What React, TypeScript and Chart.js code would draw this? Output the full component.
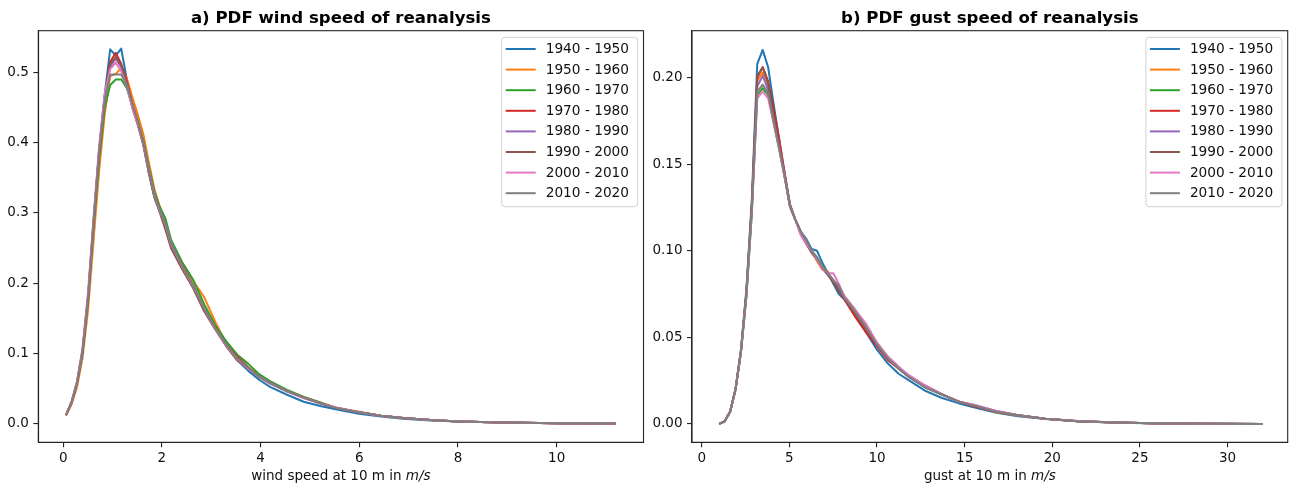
import React, { useEffect, useRef } from "react";
import { Chart, registerables } from "chart.js";

Chart.register(...registerables);

// ---------- data ----------
const PERIODS = [
  "1940 - 1950",
  "1950 - 1960",
  "1960 - 1970",
  "1970 - 1980",
  "1980 - 1990",
  "1990 - 2000",
  "2000 - 2010",
  "2010 - 2020",
];
const COLORS = ["#1f77b4", "#ff7f0e", "#2ca02c", "#d62728", "#9467bd", "#8c564b", "#e377c2", "#7f7f7f"];

const WIND_TICKS_X = [0, 2, 4, 6, 8, 10];
const WIND_TICKS_Y = [0, 0.1, 0.2, 0.3, 0.4, 0.5];
const GUST_TICKS_X = [0, 5, 10, 15, 20, 25, 30];
const GUST_TICKS_Y = [0, 0.05, 0.1, 0.15, 0.2];

const WIND_X = [0.056, 0.168, 0.28, 0.392, 0.504, 0.616, 0.728, 0.84, 0.952, 1.064, 1.176, 1.288, 1.4, 1.512, 1.624, 1.736, 1.848, 1.96, 2.072, 2.184, 2.408, 2.632, 2.856, 3.08, 3.304, 3.528, 3.752, 3.976, 4.2, 4.536, 4.872, 5.208, 5.544, 5.992, 6.44, 6.888, 7.448, 8.008, 8.904, 10.024, 11.2];
const WIND_1940 = [0.012, 0.031, 0.059, 0.105, 0.182, 0.29, 0.39, 0.468, 0.533, 0.524, 0.534, 0.49, 0.452, 0.428, 0.398, 0.358, 0.322, 0.302, 0.282, 0.255, 0.222, 0.196, 0.164, 0.136, 0.111, 0.09, 0.075, 0.062, 0.052, 0.041, 0.031, 0.025, 0.02, 0.014, 0.01, 0.007, 0.0045, 0.0028, 0.0014, 0.0005, 0.0001];
const WIND_1950 = [0.011, 0.027, 0.052, 0.094, 0.162, 0.262, 0.36, 0.44, 0.495, 0.498, 0.506, 0.492, 0.465, 0.44, 0.412, 0.372, 0.334, 0.308, 0.287, 0.26, 0.228, 0.203, 0.18, 0.145, 0.114, 0.094, 0.08, 0.068, 0.059, 0.047, 0.038, 0.03, 0.022, 0.017, 0.011, 0.008, 0.005, 0.003, 0.0015, 0.0005, 0.0001];
const WIND_1960 = [0.012, 0.03, 0.057, 0.1, 0.175, 0.28, 0.375, 0.45, 0.482, 0.49, 0.49, 0.478, 0.452, 0.43, 0.402, 0.365, 0.33, 0.308, 0.292, 0.262, 0.23, 0.205, 0.17, 0.14, 0.117, 0.098, 0.085, 0.07, 0.06, 0.048, 0.038, 0.03, 0.022, 0.016, 0.011, 0.008, 0.005, 0.003, 0.0015, 0.0005, 0.0001];
const WIND_1970 = [0.012, 0.03, 0.058, 0.103, 0.18, 0.287, 0.388, 0.465, 0.515, 0.528, 0.512, 0.488, 0.456, 0.43, 0.4, 0.36, 0.326, 0.303, 0.282, 0.255, 0.226, 0.197, 0.163, 0.136, 0.112, 0.095, 0.08, 0.066, 0.058, 0.046, 0.037, 0.029, 0.022, 0.016, 0.011, 0.008, 0.005, 0.003, 0.0015, 0.0005, 0.0001];
const WIND_1980 = [0.012, 0.03, 0.058, 0.103, 0.178, 0.285, 0.386, 0.462, 0.508, 0.52, 0.508, 0.485, 0.452, 0.428, 0.398, 0.358, 0.324, 0.302, 0.283, 0.256, 0.224, 0.195, 0.163, 0.135, 0.112, 0.092, 0.078, 0.067, 0.058, 0.046, 0.037, 0.029, 0.022, 0.016, 0.011, 0.008, 0.005, 0.003, 0.0015, 0.0005, 0.0001];
const WIND_1990 = [0.012, 0.03, 0.058, 0.103, 0.18, 0.286, 0.387, 0.464, 0.512, 0.522, 0.51, 0.484, 0.45, 0.425, 0.396, 0.356, 0.322, 0.3, 0.276, 0.25, 0.22, 0.193, 0.16, 0.134, 0.11, 0.09, 0.079, 0.066, 0.057, 0.046, 0.037, 0.029, 0.022, 0.016, 0.011, 0.008, 0.005, 0.003, 0.0015, 0.0005, 0.0001];
const WIND_2000 = [0.012, 0.031, 0.06, 0.108, 0.188, 0.295, 0.395, 0.47, 0.505, 0.514, 0.502, 0.48, 0.45, 0.426, 0.398, 0.36, 0.325, 0.303, 0.283, 0.256, 0.224, 0.196, 0.164, 0.135, 0.111, 0.092, 0.078, 0.066, 0.057, 0.046, 0.036, 0.029, 0.023, 0.016, 0.011, 0.008, 0.005, 0.003, 0.0015, 0.0005, 0.0001];
const WIND_2010 = [0.012, 0.03, 0.058, 0.104, 0.18, 0.288, 0.388, 0.46, 0.497, 0.497, 0.497, 0.482, 0.455, 0.43, 0.4, 0.36, 0.325, 0.304, 0.284, 0.257, 0.224, 0.197, 0.164, 0.136, 0.112, 0.093, 0.079, 0.066, 0.057, 0.046, 0.037, 0.029, 0.022, 0.016, 0.011, 0.008, 0.005, 0.003, 0.0015, 0.0005, 0.0001];

const GUST_X = [1.0, 1.31, 1.62, 1.93, 2.24, 2.55, 2.86, 3.17, 3.48, 3.79, 4.1, 4.41, 4.72, 5.03, 5.34, 5.65, 5.96, 6.27, 6.58, 6.89, 7.2, 7.51, 7.82, 8.13, 8.44, 8.75, 9.37, 9.99, 10.61, 11.23, 11.85, 12.78, 13.71, 14.64, 15.57, 16.81, 18.05, 19.6, 21.46, 23.63, 26.42, 29.21, 32.0];
const GUST_1940 = [0.0, 0.0015, 0.007, 0.02, 0.043, 0.078, 0.13, 0.208, 0.216, 0.206, 0.185, 0.165, 0.145, 0.127, 0.118, 0.111, 0.107, 0.101, 0.1, 0.093, 0.087, 0.081, 0.075, 0.072, 0.068, 0.063, 0.053, 0.043, 0.035, 0.029, 0.025, 0.019, 0.015, 0.012, 0.0095, 0.0065, 0.0045, 0.0028, 0.0015, 0.0007, 0.0003, 0.0001, 0.0];
const GUST_1950 = [0.0, 0.0015, 0.007, 0.02, 0.042, 0.075, 0.125, 0.198, 0.203, 0.194, 0.176, 0.16, 0.144, 0.126, 0.118, 0.111, 0.105, 0.1, 0.094, 0.089, 0.088, 0.082, 0.078, 0.074, 0.069, 0.064, 0.056, 0.046, 0.038, 0.032, 0.027, 0.021, 0.017, 0.013, 0.0105, 0.0068, 0.0048, 0.003, 0.0016, 0.0008, 0.0003, 0.0001, 0.0];
const GUST_1960 = [0.0, 0.0015, 0.007, 0.02, 0.041, 0.073, 0.122, 0.19, 0.194, 0.19, 0.174, 0.159, 0.143, 0.126, 0.118, 0.111, 0.106, 0.1, 0.096, 0.091, 0.087, 0.083, 0.078, 0.074, 0.07, 0.066, 0.057, 0.047, 0.039, 0.033, 0.027, 0.021, 0.017, 0.013, 0.0105, 0.007, 0.005, 0.003, 0.0016, 0.0008, 0.0003, 0.0001, 0.0];
const GUST_1970 = [0.0, 0.0015, 0.007, 0.02, 0.042, 0.076, 0.126, 0.2, 0.206, 0.198, 0.182, 0.165, 0.146, 0.127, 0.118, 0.11, 0.104, 0.099, 0.095, 0.09, 0.086, 0.082, 0.077, 0.072, 0.067, 0.062, 0.053, 0.045, 0.037, 0.032, 0.027, 0.022, 0.017, 0.013, 0.01, 0.007, 0.005, 0.003, 0.0016, 0.0008, 0.0003, 0.0001, 0.0];
const GUST_1980 = [0.0, 0.0015, 0.007, 0.02, 0.042, 0.075, 0.124, 0.195, 0.201, 0.193, 0.176, 0.16, 0.144, 0.126, 0.118, 0.111, 0.106, 0.1, 0.096, 0.09, 0.086, 0.083, 0.079, 0.073, 0.069, 0.065, 0.056, 0.046, 0.038, 0.032, 0.027, 0.021, 0.017, 0.013, 0.011, 0.0075, 0.005, 0.003, 0.0017, 0.0008, 0.0003, 0.0001, 0.0];
const GUST_1990 = [0.0, 0.0015, 0.007, 0.02, 0.042, 0.076, 0.126, 0.201, 0.206, 0.197, 0.178, 0.161, 0.144, 0.126, 0.118, 0.111, 0.105, 0.099, 0.095, 0.09, 0.087, 0.082, 0.077, 0.073, 0.068, 0.064, 0.055, 0.046, 0.038, 0.032, 0.027, 0.022, 0.017, 0.013, 0.0105, 0.0072, 0.005, 0.003, 0.0016, 0.0008, 0.0003, 0.0001, 0.0];
const GUST_2000 = [0.0, 0.0015, 0.007, 0.02, 0.042, 0.074, 0.122, 0.188, 0.192, 0.188, 0.174, 0.159, 0.143, 0.126, 0.118, 0.109, 0.104, 0.1, 0.095, 0.09, 0.087, 0.087, 0.081, 0.074, 0.07, 0.066, 0.058, 0.047, 0.039, 0.033, 0.028, 0.022, 0.017, 0.013, 0.011, 0.0075, 0.005, 0.003, 0.0017, 0.0008, 0.0003, 0.0001, 0.0];
const GUST_2010 = [0.0, 0.0015, 0.007, 0.02, 0.042, 0.075, 0.124, 0.192, 0.196, 0.191, 0.175, 0.16, 0.144, 0.126, 0.118, 0.111, 0.106, 0.1, 0.096, 0.091, 0.087, 0.083, 0.08, 0.073, 0.069, 0.065, 0.056, 0.046, 0.038, 0.032, 0.027, 0.021, 0.017, 0.013, 0.0105, 0.007, 0.005, 0.003, 0.0016, 0.0008, 0.0003, 0.0001, 0.0];

const WIND_SERIES = [WIND_1940, WIND_1950, WIND_1960, WIND_1970, WIND_1980, WIND_1990, WIND_2000, WIND_2010];
const GUST_SERIES = [GUST_1940, GUST_1950, GUST_1960, GUST_1970, GUST_1980, GUST_1990, GUST_2000, GUST_2010];

// ---------- styling ----------
const FONT = '"DejaVu Sans", "Liberation Sans", sans-serif';
const TXT = "#111";
const SPINE = "#262626";

const decorPlugin = {
  id: "decor",
  afterDraw(chart: any, _args: any, o: any) {
    const { ctx, chartArea: ca } = chart;
    ctx.save();
    // full frame
    ctx.strokeStyle = SPINE;
    ctx.lineWidth = 1.1;
    ctx.strokeRect(ca.left, ca.top, ca.right - ca.left, ca.bottom - ca.top);
    const cx = (ca.left + ca.right) / 2;
    // title
    ctx.fillStyle = "#000";
    ctx.font = `bold 16.6px ${FONT}`;
    ctx.textAlign = "center";
    ctx.textBaseline = "alphabetic";
    ctx.fillText(o.title, cx, 22.5);
    // x label with italic unit
    ctx.font = `13.5px ${FONT}`;
    const w1 = ctx.measureText(o.xlabel).width;
    ctx.font = `italic 13.5px ${FONT}`;
    const w2 = ctx.measureText(o.unit).width;
    const x0 = cx - (w1 + w2) / 2;
    ctx.textAlign = "left";
    ctx.fillStyle = TXT;
    ctx.font = `13.5px ${FONT}`;
    ctx.fillText(o.xlabel, x0, 480);
    ctx.font = `italic 13.5px ${FONT}`;
    ctx.fillText(o.unit, x0 + w1, 480);
    // legend
    const bw = 136;
    const bh = 169.4;
    const bx = ca.right - 5.8 - bw;
    const by = ca.top + 6.6;
    ctx.beginPath();
    if (ctx.roundRect) ctx.roundRect(bx, by, bw, bh, 3);
    else ctx.rect(bx, by, bw, bh);
    ctx.fillStyle = "rgba(255,255,255,0.8)";
    ctx.fill();
    ctx.strokeStyle = "rgba(204,204,204,0.9)";
    ctx.lineWidth = 1;
    ctx.stroke();
    ctx.font = `13.7px ${FONT}`;
    ctx.textBaseline = "middle";
    chart.data.datasets.forEach((ds: any, i: number) => {
      const y = by + 11.7 + i * 20.6;
      ctx.strokeStyle = ds.borderColor;
      ctx.lineWidth = 2;
      ctx.beginPath();
      ctx.moveTo(bx + 4, y);
      ctx.lineTo(bx + 34, y);
      ctx.stroke();
      ctx.fillStyle = TXT;
      ctx.fillText(ds.label, bx + 44, y + 0.5);
    });
    ctx.restore();
  },
};

function makeConfig(p: {
  xs: number[];
  series: number[][];
  xMin: number;
  xMax: number;
  yMin: number;
  yMax: number;
  xTicks: number[];
  yTicks: number[];
  yDec: number;
  yAxisW: number;
  padRight: number;
  title: string;
  xlabel: string;
}): any {
  return {
    type: "line",
    data: {
      datasets: p.series.map((ys, i) => ({
        label: PERIODS[i],
        data: p.xs.map((x, j) => ({ x, y: ys[j] })),
        borderColor: COLORS[i],
        backgroundColor: COLORS[i],
        borderWidth: 2,
        pointRadius: 0,
        tension: 0,
        fill: false,
        borderJoinStyle: "round",
        order: PERIODS.length - i,
      })),
    },
    options: {
      responsive: false,
      animation: false,
      layout: { padding: { top: 30.7, right: p.padRight, left: 0, bottom: 0 } },
      plugins: {
        legend: { display: false },
        tooltip: { enabled: false },
        title: { display: false },
        decor: { title: p.title, xlabel: p.xlabel, unit: "m/s" },
      },
      scales: {
        x: {
          type: "linear",
          min: p.xMin,
          max: p.xMax,
          afterBuildTicks: (s: any) => {
            s.ticks = p.xTicks.map((v) => ({ value: v }));
          },
          afterFit: (s: any) => {
            s.height = 48.7;
          },
          ticks: {
            font: { family: FONT, size: 13.5 },
            color: TXT,
            padding: 3,
            maxRotation: 0,
            autoSkip: false,
            callback: (v: any) => String(v),
          },
          grid: { drawOnChartArea: false, drawTicks: true, tickLength: 5, color: SPINE, lineWidth: 1.1 },
          border: { display: true, color: SPINE, width: 1.1 },
        },
        y: {
          type: "linear",
          min: p.yMin,
          max: p.yMax,
          afterBuildTicks: (s: any) => {
            s.ticks = p.yTicks.map((v) => ({ value: v }));
          },
          afterFit: (s: any) => {
            s.width = p.yAxisW;
          },
          ticks: {
            font: { family: FONT, size: 13.5 },
            color: TXT,
            padding: 4.5,
            autoSkip: false,
            callback: (v: any) => Number(v).toFixed(p.yDec),
          },
          grid: { drawOnChartArea: false, drawTicks: true, tickLength: 5, color: SPINE, lineWidth: 1.1 },
          border: { display: true, color: SPINE, width: 1.1 },
        },
      },
    },
    plugins: [decorPlugin],
  };
}

export default function App() {
  const leftRef = useRef<HTMLCanvasElement>(null);
  const rightRef = useRef<HTMLCanvasElement>(null);

  useEffect(() => {
    const c1 = new Chart(
      leftRef.current as HTMLCanvasElement,
      makeConfig({
        xs: WIND_X,
        series: WIND_SERIES,
        xMin: -0.505,
        xMax: 11.76,
        yMin: -0.0267,
        yMax: 0.5595,
        xTicks: WIND_TICKS_X,
        yTicks: WIND_TICKS_Y,
        yDec: 1,
        yAxisW: 38.3,
        padRight: 4.5,
        title: "a) PDF wind speed of reanalysis",
        xlabel: "wind speed at 10 m in ",
      })
    );
    const c2 = new Chart(
      rightRef.current as HTMLCanvasElement,
      makeConfig({
        xs: GUST_X,
        series: GUST_SERIES,
        xMin: -0.553,
        xMax: 33.43,
        yMin: -0.0106,
        yMax: 0.2271,
        xTicks: GUST_TICKS_X,
        yTicks: GUST_TICKS_Y,
        yDec: 2,
        yAxisW: 44,
        padRight: 2.3,
        title: "b) PDF gust speed of reanalysis",
        xlabel: "gust at 10 m in ",
      })
    );
    return () => {
      c1.destroy();
      c2.destroy();
    };
  }, []);

  return (
    <div style={{ position: "fixed", left: 0, top: 0, width: 1290, height: 491, background: "#fff" }}>
      <canvas ref={leftRef} width={648} height={491} style={{ position: "absolute", left: 0, top: 0 }} />
      <canvas ref={rightRef} width={642} height={491} style={{ position: "absolute", left: 648, top: 0 }} />
    </div>
  );
}
